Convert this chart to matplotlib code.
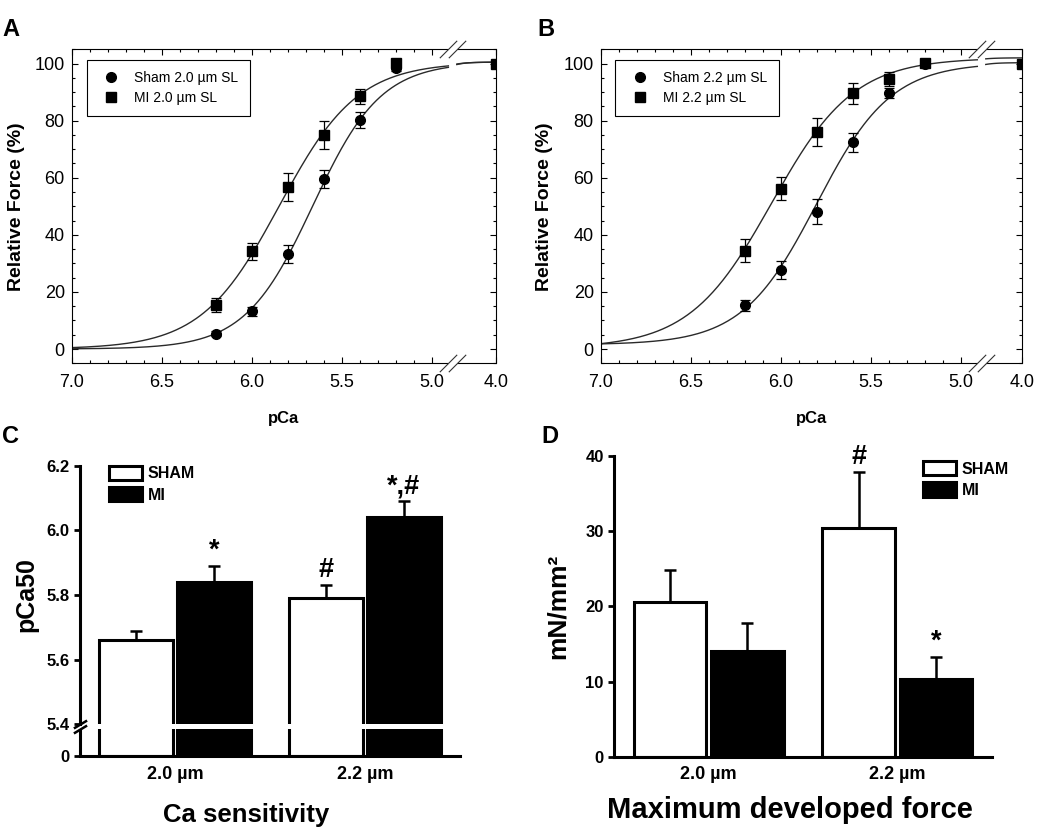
import numpy as np
import matplotlib
matplotlib.use('Agg')
import matplotlib.pyplot as plt
import matplotlib.transforms as mtransforms
from matplotlib.lines import Line2D
from matplotlib.patches import Patch
from matplotlib.ticker import FixedLocator, MultipleLocator

plt.rcParams['font.family'] = ['Liberation Sans', 'DejaVu Sans']

# ---- panels A / B : force-pCa relations (mean, SEM)
pca = [6.2, 6.0, 5.8, 5.6, 5.4, 5.2, 4.0]
sham_20 = [5.4, 13.2, 33.3, 59.6, 80.4, 98.3, 100.0]
sham_20_err = [0.8, 1.6, 3.0, 3.1, 2.8, 0.8, 0.0]
mi_20 = [15.3, 34.3, 56.8, 75.0, 88.6, 100.2, 100.0]
mi_20_err = [2.5, 3.0, 5.0, 5.0, 2.6, 0.8, 0.0]
sham_22 = [15.3, 27.7, 48.1, 72.4, 89.7, 99.7, 100.0]
sham_22_err = [2.0, 3.0, 4.4, 3.4, 1.6, 0.8, 0.0]
mi_22 = [34.5, 56.1, 76.0, 89.6, 94.6, 100.3, 100.0]
mi_22_err = [4.0, 4.0, 4.8, 3.7, 2.6, 0.8, 0.0]

# Hill fits (pCa50, nH, bottom, top)
fit_sham_20 = (5.66, 2.3, 0.0, 100.5)
fit_mi_20 = (5.846, 2.0, 0.0, 100.5)
fit_sham_22 = (5.80, 2.1, 1.5, 100.3)
fit_mi_22 = (6.05, 1.9, 0.3, 102.0)

# ---- panels C / D : bar charts
groups = ['2.0 µm', '2.2 µm']
pca50_sham = [5.66, 5.79]
pca50_sham_err = [0.03, 0.04]
pca50_mi = [5.84, 6.04]
pca50_mi_err = [0.05, 0.05]
pca50_sham_mark = ['', '#']
pca50_mi_mark = ['*', '*,#']

force_sham = [20.6, 30.4]
force_sham_err = [4.2, 7.4]
force_mi = [14.1, 10.3]
force_mi_err = [3.7, 3.0]
force_sham_mark = ['', '#']
force_mi_mark = ['', '*']


def hill(p, pca50, nh, bottom, top):
    return bottom + (top - bottom) / (1 + 10 ** (nh * (p - pca50)))


def pca_scale(k, brk=4.9):
    def fwd(p):
        p = np.asarray(p, float)
        return np.where(p >= brk, p, brk - (brk - p) * k)

    def inv(q):
        q = np.asarray(q, float)
        return np.where(q >= brk, q, brk - (brk - q) / k)
    return fwd, inv


def force_panel(ax, k, sham, sham_err, mi, mi_err, fit_sham, fit_mi, sl):
    fwd, inv = pca_scale(k)
    ax.set_xscale('function', functions=(fwd, inv))
    gap_lo = 4.907
    gap_hi = float(inv(4.86))
    for fit in (fit_sham, fit_mi):
        for seg in (np.linspace(7.0, gap_lo, 300), np.linspace(gap_hi, 4.0, 20)):
            ax.plot(seg, hill(seg, *fit), color='#2a2a2a', lw=1.0, zorder=2)
    ax.errorbar(pca, sham, yerr=sham_err, fmt='o', ms=7, color='k',
                elinewidth=0.9, capsize=3.5, capthick=0.9, zorder=3)
    ax.errorbar(pca, mi, yerr=mi_err, fmt='s', ms=6.5, color='k',
                elinewidth=0.9, capsize=3.5, capthick=0.9, zorder=3)
    ax.set_xlim(7.0, 4.0)
    ax.set_ylim(-5, 105)

    # broken frame
    ax.spines['top'].set_visible(False)
    ax.spines['bottom'].set_visible(False)
    for s in ('left', 'right'):
        ax.spines[s].set_linewidth(0.8)
    trans = mtransforms.blended_transform_factory(ax.transData, ax.transAxes)
    for yy in (0, 1):
        ax.plot([7.0, gap_lo], [yy, yy], transform=trans, color='k', lw=0.8,
                clip_on=False, solid_capstyle='butt')
        ax.plot([gap_hi, 4.0], [yy, yy], transform=trans, color='k', lw=0.8,
                clip_on=False, solid_capstyle='butt')
        ax.plot([gap_lo, gap_hi], [yy, yy], transform=trans, ls='none',
                marker=[(-1, -1), (1, 1)], ms=12.5, mew=0.8, color='#333333',
                clip_on=False)

    ax.xaxis.set_major_locator(FixedLocator([7.0, 6.5, 6.0, 5.5, 5.0, 4.0]))
    minor = [round(v, 1) for v in np.arange(5.1, 7.0, 0.1)
             if round(v, 1) not in (5.5, 6.0, 6.5)]
    ax.xaxis.set_minor_locator(FixedLocator(minor))
    ax.xaxis.set_major_formatter(plt.FormatStrFormatter('%.1f'))
    ax.yaxis.set_major_locator(FixedLocator([0, 20, 40, 60, 80, 100]))
    ax.yaxis.set_minor_locator(MultipleLocator(5))
    ax.tick_params(which='both', direction='in', top=True, right=True,
                   width=0.8, labelsize=13)
    ax.tick_params(which='major', length=4)
    ax.tick_params(which='minor', length=2.5)
    ax.tick_params(axis='x', which='major', pad=8)
    ax.tick_params(axis='y', which='major', pad=5)

    ax.set_ylabel('Relative Force (%)', fontsize=14, fontweight='bold')
    ax.yaxis.set_label_coords(-0.11, 0.5)
    ax.set_xlabel('pCa', fontsize=12, fontweight='bold')
    ax.xaxis.set_label_coords(0.5, -0.152)

    handles = [Line2D([], [], marker='o', ls='none', color='k', ms=7),
               Line2D([], [], marker='s', ls='none', color='k', ms=6.5)]
    leg = ax.legend(handles, ['Sham %s µm SL' % sl, 'MI %s µm SL' % sl],
                    loc='upper left', bbox_to_anchor=(0.035, 0.966),
                    borderaxespad=0, fancybox=False, edgecolor='k',
                    framealpha=1, fontsize=10, handlelength=1.9,
                    handletextpad=0.75, borderpad=0.8, labelspacing=0.45)
    leg.get_frame().set_linewidth(0.8)


def bar_panel(ax, sham, sham_err, mi, mi_err, sham_mark, mi_mark):
    x = np.arange(len(groups))
    off, w = 0.205, 0.385
    ax.bar(x - off, sham, width=w, color='white', edgecolor='k', lw=2.2,
           zorder=2, label='SHAM')
    ax.bar(x + off, mi, width=w, color='black', edgecolor='k', lw=2.2,
           zorder=2, label='MI')
    ax.errorbar(x - off, sham, yerr=[np.zeros(len(x)), sham_err], fmt='none',
                ecolor='k', elinewidth=1.8, capsize=4, capthick=1.8, zorder=1)
    ax.errorbar(x + off, mi, yerr=[np.zeros(len(x)), mi_err], fmt='none',
                ecolor='k', elinewidth=1.8, capsize=4, capthick=1.8, zorder=1)
    for xs, vals, errs, marks in ((x - off, sham, sham_err, sham_mark),
                                  (x + off, mi, mi_err, mi_mark)):
        for xi, v, e, m in zip(xs, vals, errs, marks):
            if m:
                ax.annotate(m, (xi, v + e), xytext=(0, 1.5),
                            textcoords='offset points', ha='center',
                            va='bottom', fontsize=19.5, fontweight='bold')
    ax.set_xlim(-0.5, 1.5)
    ax.set_xticks(x)
    ax.set_xticklabels(groups, fontsize=13, fontweight='bold')
    ax.tick_params(axis='x', length=0, pad=7)
    ax.tick_params(axis='y', direction='out', length=4, width=2, labelsize=12)
    for lab in ax.get_yticklabels():
        lab.set_fontweight('bold')
    ax.spines['top'].set_visible(False)
    ax.spines['right'].set_visible(False)
    ax.spines['left'].set_linewidth(2.2)
    ax.spines['bottom'].set_linewidth(2.2)


fig = plt.figure(figsize=(10.5, 8.34), dpi=100)

axA = fig.add_axes([0.0683, 0.5644, 0.4038, 0.3765])
force_panel(axA, 0.2844, sham_20, sham_20_err, mi_20, mi_20_err,
            fit_sham_20, fit_mi_20, '2.0')
axB = fig.add_axes([0.5721, 0.5644, 0.4012, 0.3765])
force_panel(axB, 0.268, sham_22, sham_22_err, mi_22, mi_22_err,
            fit_sham_22, fit_mi_22, '2.2')
axB.yaxis.set_label_coords(-0.1125, 0.5)

# ---- C : pCa50 with broken y axis
axC = fig.add_axes([0.0762, 0.0935, 0.3619, 0.3481])
lo, gap = 5.4, 0.098


def c_fwd(y):
    y = np.asarray(y, float)
    return np.where(y >= lo, y - lo + gap, y * gap / lo)


def c_inv(q):
    q = np.asarray(q, float)
    return np.where(q >= gap, q + lo - gap, q * lo / gap)


axC.set_yscale('function', functions=(c_fwd, c_inv))
bar_panel(axC, pca50_sham, pca50_sham_err, pca50_mi, pca50_mi_err,
          pca50_sham_mark, pca50_mi_mark)
axC.set_ylim(0, 6.2)
axC.set_yticks([0, 5.4, 5.6, 5.8, 6.0, 6.2])
axC.set_yticklabels(['0', '5.4', '5.6', '5.8', '6.0', '6.2'],
                    fontweight='bold', fontsize=12)
axC.spines['left'].set_bounds(5.4, 6.2)
blendC = mtransforms.blended_transform_factory(axC.transAxes, axC.transData)
axC.plot([0, 0], [0, 4.55], transform=blendC, color='k', lw=2.2,
         clip_on=False, solid_capstyle='butt')
axC.axhspan(4.55, 5.4, xmin=0.01, xmax=1, color='white', zorder=4, lw=0)
axC.plot([0, 0], [5.4, 4.55], transform=blendC, ls='none',
         marker=[(-1, -0.6), (1, 0.6)], ms=9.5, mew=1.8, color='k',
         clip_on=False, zorder=5)
axC.set_ylabel('pCa50', fontsize=18, fontweight='bold')
axC.yaxis.set_label_coords(-0.11, 0.555)
axC.legend(handles=[Patch(facecolor='white', edgecolor='k', lw=2.2, label='SHAM'),
                    Patch(facecolor='black', edgecolor='k', lw=2.2, label='MI')],
           loc='upper left', bbox_to_anchor=(0.077, 1.0), borderaxespad=0,
           borderpad=0, frameon=False, handlelength=2.05, handleheight=1.0,
           handletextpad=0.35, labelspacing=0.35,
           prop={'weight': 'bold', 'size': 11.5})

# ---- D : maximum developed force
axD = fig.add_axes([0.585, 0.0927, 0.3594, 0.3606])
bar_panel(axD, force_sham, force_sham_err, force_mi, force_mi_err,
          force_sham_mark, force_mi_mark)
axD.set_ylim(0, 40)
axD.set_yticks([0, 10, 20, 30, 40])
axD.set_yticklabels(['0', '10', '20', '30', '40'], fontweight='bold',
                    fontsize=12)
axD.set_ylabel('mN/mm²', fontsize=19, fontweight='bold')
axD.yaxis.set_label_coords(-0.117, 0.5)
axD.legend(handles=[Patch(facecolor='white', edgecolor='k', lw=2.2, label='SHAM'),
                    Patch(facecolor='black', edgecolor='k', lw=2.2, label='MI')],
           loc='upper left', bbox_to_anchor=(0.819, 0.983), borderaxespad=0,
           borderpad=0, frameon=False, handlelength=2.05, handleheight=1.0,
           handletextpad=0.35, labelspacing=0.35,
           prop={'weight': 'bold', 'size': 11.5})

# panel letters and captions
for letter, xl, yt in (('A', 0.002, 0.978), ('B', 0.512, 0.978),
                       ('C', 0.002, 0.490), ('D', 0.516, 0.490)):
    fig.text(xl, yt, letter, fontsize=17, fontweight='bold', va='top', ha='left')
fig.text(0.234, 1 - 822 / 834, 'Ca sensitivity', fontsize=18.5,
         fontweight='bold', ha='center', va='baseline')
fig.text(0.752, 1 - 818 / 834, 'Maximum developed force', fontsize=21,
         fontweight='bold', ha='center', va='baseline')

fig.savefig('out.png', dpi=100, facecolor='white')
